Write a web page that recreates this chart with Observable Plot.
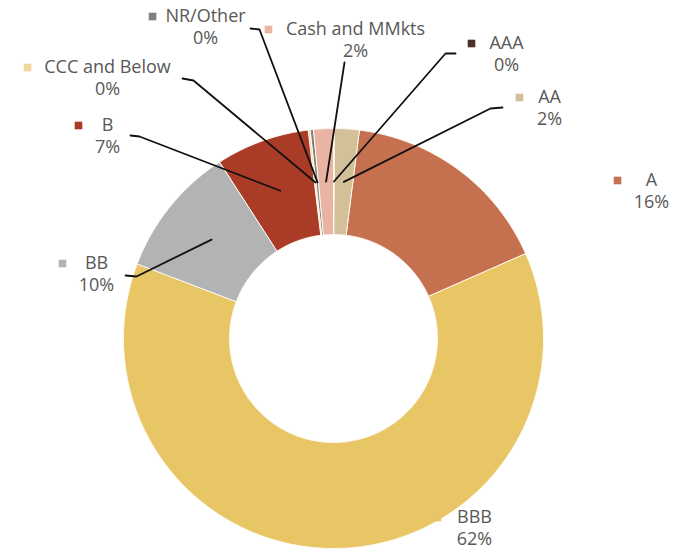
<!DOCTYPE html>
<html><head><meta charset="utf-8">
<script src="https://cdn.jsdelivr.net/npm/d3@7"></script>
<script src="https://cdn.jsdelivr.net/npm/@observablehq/plot@0.6"></script>
<style>body{margin:0;background:#fff}#chart{width:686px;height:551px}</style>
</head><body><div id="chart"></div>
<script>
// ---- data ----
const categories = ["AAA", "AA", "A", "BBB", "BB", "B", "CCC and Below", "NR/Other", "Cash and MMkts"];
const values = [0.1, 1.9, 16.4, 62.4, 10.1, 7.2, 0.15, 0.25, 1.5];
const pctLabels = ["0%", "2%", "16%", "62%", "10%", "7%", "0%", "0%", "2%"];
const colors = ["#4b3226", "#d3bf98", "#c5704f", "#e8c565", "#b2b3b5", "#a93b27", "#f0d79c", "#808080", "#e9b4a3"];

// ---- layout (manual label placement, pixel units) ----
const labelLayout = [
  {key: "AAA", tx: 506, ty: 43, kx: 471, lead: [[455, 53], [445, 53]]},
  {key: "AA", tx: 549, ty: 97, kx: 519, lead: [[502, 107], [490, 108]]},
  {key: "A", tx: 651, ty: 180, kx: 617, lead: null},
  {key: "BBB", tx: 474, ty: 517, kx: 437, lead: null},
  {key: "BB", tx: 96, ty: 263, kx: 62, lead: [[125, 275], [136, 276]]},
  {key: "B", tx: 107, ty: 125, kx: 78, lead: [[130, 135], [139, 136]]},
  {key: "CCC and Below", tx: 107, ty: 67, kx: 27, lead: [[182, 78], [193, 80]]},
  {key: "NR/Other", tx: 205, ty: 16, kx: 152, lead: [[250, 28], [259, 29]]},
  {key: "Cash and MMkts", tx: 355, ty: 29, kx: 268, lead: [[344, 62]]}
];
const geom = {cx: 333, cy: 338, R: 210, r: 104, lineGap: 22, fontSize: 18};

// ---- derived ----
const pie = d3.pie().sort(null).value(d => d.value)(categories.map((c, i) => ({key: c, value: values[i], pct: pctLabels[i]})));
const pt = (a, rad) => ({x: geom.cx + rad * Math.sin(a), y: geom.cy - rad * Math.cos(a)});

const slicePts = [];
for (const s of pie) {
  const n = Math.max(2, Math.ceil((s.endAngle - s.startAngle) / (Math.PI / 360)));
  for (let k = 0; k <= n; k++) {
    const a = s.startAngle + (s.endAngle - s.startAngle) * k / n;
    slicePts.push({key: s.data.key, ...pt(a, geom.R)});
  }
  for (let k = n; k >= 0; k--) {
    const a = s.startAngle + (s.endAngle - s.startAngle) * k / n;
    slicePts.push({key: s.data.key, ...pt(a, geom.r)});
  }
}

const byKey = new Map(pie.map(s => [s.data.key, s]));
const labels = labelLayout.map(L => ({...L, pct: byKey.get(L.key).data.pct}));
const leaderPts = [];
for (const L of labelLayout) {
  if (!L.lead) continue;
  const s = byKey.get(L.key);
  const mid = (s.startAngle + s.endAngle) / 2;
  for (const [x, y] of L.lead) leaderPts.push({key: L.key, x, y});
  leaderPts.push({key: L.key, ...pt(mid, (geom.R + geom.r) / 2)});
}

const chart = Plot.plot({
  width: 686, height: 551, margin: 0,
  x: {domain: [0, 686], axis: null},
  y: {domain: [551, 0], axis: null},
  color: {domain: categories, range: colors},
  style: {fontFamily: "'Open Sans', sans-serif", background: "#fff"},
  marks: [
    Plot.line(slicePts, {x: "x", y: "y", z: "key", fill: "key", stroke: "#fffaf0", strokeWidth: 1, curve: "linear-closed"}),
    Plot.line(leaderPts, {x: "x", y: "y", z: "key", stroke: "#111", strokeWidth: 1.8}),
    Plot.dot(labels, {x: "kx", y: "ty", fill: "key", symbol: "square", r: 4.3}),
    Plot.text(labels, {x: "tx", y: "ty", text: "key", fill: "#585858", fontSize: geom.fontSize}),
    Plot.text(labels, {x: "tx", y: d => d.ty + geom.lineGap, text: "pct", fill: "#585858", fontSize: geom.fontSize})
  ]
});
document.getElementById("chart").appendChild(chart);
</script>
</body></html>
